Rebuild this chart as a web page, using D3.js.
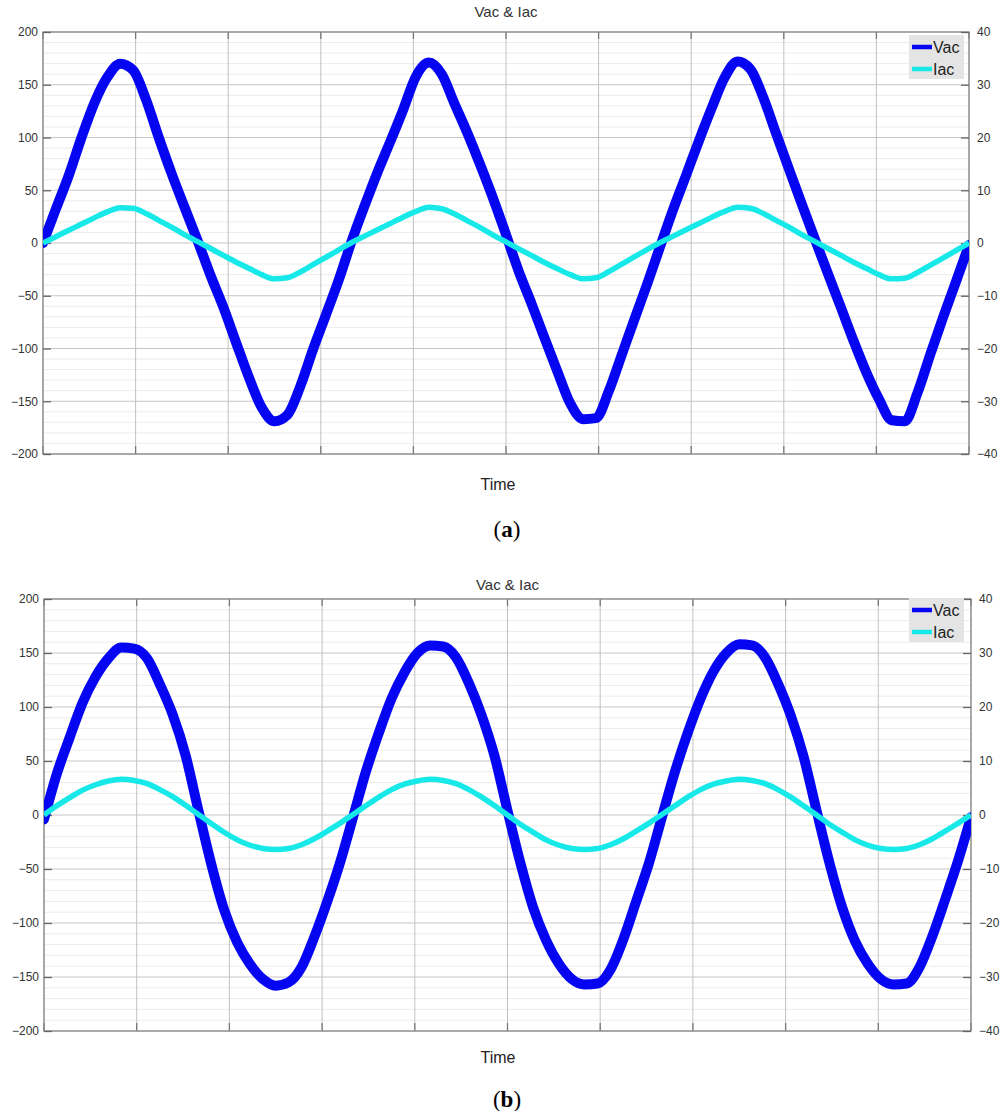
<!DOCTYPE html>
<html>
<head>
<meta charset="utf-8">
<script src="https://cdn.jsdelivr.net/npm/d3@7"></script>
<style>
  body { margin: 0; background: #fff; }
  svg { display: block; }
  .tick text { font-family: "Liberation Sans", Arial, sans-serif; font-size: 12px; fill: #333; }
</style>
</head>
<body>
<div id="plot"></div>
<script>
// sample times in ms (period / 24 steps)
const timeMs = [0.00, 0.69, 1.39, 2.08, 2.78, 3.47, 4.17, 4.86, 5.56, 6.25, 6.94, 7.64,
  8.33, 9.03, 9.72, 10.42, 11.11, 11.81, 12.50, 13.19, 13.89, 14.58, 15.28, 15.97,
  16.67, 17.36, 18.06, 18.75, 19.44, 20.14, 20.83, 21.53, 22.22, 22.92, 23.61, 24.31,
  25.00, 25.69, 26.39, 27.08, 27.78, 28.47, 29.17, 29.86, 30.56, 31.25, 31.94, 32.64,
  33.33, 34.03, 34.72, 35.42, 36.11, 36.81, 37.50, 38.19, 38.89, 39.58, 40.28, 40.97,
  41.67, 42.36, 43.06, 43.75, 44.44, 45.14, 45.83, 46.53, 47.22, 47.92, 48.61, 49.31, 50.00];

// panel (a)
const vacA = [0, 32, 64, 100, 133, 157, 170, 164, 136, 100, 66, 34,
  3, -30, -60, -94, -127, -156, -169, -163, -136, -101, -68, -35,
  2, 35, 67, 96, 126, 158, 171, 160, 132, 104, 74, 42,
  8, -27, -58, -90, -122, -152, -167, -166, -140, -106, -72, -38,
  -3, 32, 64, 97, 128, 157, 172, 165, 138, 104, 70, 37,
  4, -28, -60, -92, -122, -148, -168, -169, -142, -105, -70, -36, -2];
const iacA = [0, 1.2, 2.4, 3.6, 4.8, 5.9, 6.7, 6.6, 5.6, 4.3, 3.0, 1.6,
  0.3, -1.0, -2.3, -3.6, -4.8, -6.0, -6.8, -6.6, -5.5, -4.1, -2.7, -1.3,
  0.1, 1.3, 2.5, 3.7, 4.9, 6.0, 6.8, 6.5, 5.5, 4.2, 2.9, 1.5,
  0.2, -1.1, -2.4, -3.7, -4.9, -6.0, -6.8, -6.6, -5.4, -4.0, -2.6, -1.2,
  0.1, 1.3, 2.5, 3.7, 4.9, 6.0, 6.8, 6.6, 5.6, 4.3, 3.0, 1.6,
  0.3, -1.0, -2.3, -3.6, -4.8, -6.0, -6.8, -6.7, -5.6, -4.2, -2.8, -1.4, 0.0];

// panel (b)
const vacB = [-4, 38, 72, 104, 128, 145, 155, 154, 145, 121, 93, 55,
  4, -46, -88, -118, -138, -152, -158, -155, -141, -113, -80, -44,
  -2, 40, 76, 108, 132, 150, 157, 156, 146, 122, 92, 54,
  4, -44, -86, -116, -138, -152, -157, -156, -143, -115, -80, -44,
  -2, 40, 76, 108, 133, 150, 158, 157, 146, 122, 92, 54,
  4, -44, -86, -117, -138, -152, -157, -156, -141, -112, -78, -42, -2];
const iacB = [0, 1.7, 3.2, 4.6, 5.6, 6.3, 6.6, 6.4, 5.8, 4.7, 3.4, 1.8,
  0.1, -1.6, -3.2, -4.6, -5.6, -6.2, -6.4, -6.2, -5.5, -4.4, -3.0, -1.5,
  0.1, 1.7, 3.3, 4.7, 5.7, 6.3, 6.6, 6.4, 5.8, 4.7, 3.3, 1.7,
  0.0, -1.7, -3.2, -4.6, -5.6, -6.2, -6.4, -6.2, -5.5, -4.4, -3.0, -1.5,
  0.1, 1.7, 3.3, 4.7, 5.7, 6.3, 6.6, 6.4, 5.8, 4.7, 3.3, 1.7,
  0.0, -1.7, -3.2, -4.6, -5.6, -6.2, -6.4, -6.2, -5.5, -4.4, -3.0, -1.5, 0.0];

const vTicks = [-200, -150, -100, -50, 0, 50, 100, 150, 200];
const iTicks = [-40, -30, -20, -10, 0, 10, 20, 30, 40];
const timeTicks = [0, 5, 10, 15, 20, 25, 30, 35, 40, 45, 50];
const seriesNames = ["Vac", "Iac"];

const vacColor = "#0505f2", iacColor = "#17e8e8";

const svg = d3.select("#plot").append("svg")
  .attr("width", 1007)
  .attr("height", 1111);

function drawPanel(p, idx) {
  const x = d3.scaleLinear().domain([0, 50]).range([p.left, p.right]);
  const yV = d3.scaleLinear().domain([-200, 200]).range([p.bottom, p.top]);
  const yI = d3.scaleLinear().domain([-40, 40]).range([p.bottom, p.top]);

  const g = svg.append("g");

  // minor grid
  g.append("g").selectAll("line")
    .data(d3.range(-200, 201, 10).filter(v => v % 50 !== 0))
    .enter().append("line")
    .attr("x1", p.left).attr("x2", p.right)
    .attr("y1", d => yV(d)).attr("y2", d => yV(d))
    .attr("stroke", "#ececec").attr("stroke-width", 1);

  // major grid
  g.append("g").selectAll("line")
    .data(vTicks)
    .enter().append("line")
    .attr("x1", p.left).attr("x2", p.right)
    .attr("y1", d => yV(d)).attr("y2", d => yV(d))
    .attr("stroke", "#c6c6c6").attr("stroke-width", 1);

  g.append("g").selectAll("line")
    .data(timeTicks)
    .enter().append("line")
    .attr("x1", d => x(d)).attr("x2", d => x(d))
    .attr("y1", p.top).attr("y2", p.bottom)
    .attr("stroke", "#c2c2c2").attr("stroke-width", 1);

  // top / bottom tick marks
  g.append("g").selectAll("line")
    .data(timeTicks)
    .enter().append("line")
    .attr("x1", d => x(d)).attr("x2", d => x(d))
    .attr("y1", p.top).attr("y2", p.top + 7)
    .attr("stroke", "#777").attr("stroke-width", 1.3);
  g.append("g").selectAll("line")
    .data(timeTicks)
    .enter().append("line")
    .attr("x1", d => x(d)).attr("x2", d => x(d))
    .attr("y1", p.bottom).attr("y2", p.bottom - 8)
    .attr("stroke", "#777").attr("stroke-width", 1.3);

  // box
  g.append("rect")
    .attr("x", p.left).attr("y", p.top)
    .attr("width", p.right - p.left).attr("height", p.bottom - p.top)
    .attr("fill", "none").attr("stroke", "#8a8a8a").attr("stroke-width", 1.3);

  // axes
  const axL = g.append("g")
    .attr("transform", "translate(" + p.left + ",0)")
    .call(d3.axisLeft(yV).tickValues(vTicks).tickSizeInner(-8).tickSizeOuter(0).tickPadding(5).tickFormat(d3.format("d")));
  const axR = g.append("g")
    .attr("transform", "translate(" + p.right + ",0)")
    .call(d3.axisRight(yI).tickValues(iTicks).tickSizeInner(-8).tickSizeOuter(0).tickPadding(8).tickFormat(d3.format("d")));
  [axL, axR].forEach(a => {
    a.select(".domain").remove();
    a.selectAll(".tick line").attr("stroke", "#666").attr("stroke-width", 1.3);
  });

  // clip
  svg.append("clipPath").attr("id", "clip" + idx)
    .append("rect")
    .attr("x", p.left).attr("y", p.top)
    .attr("width", p.right - p.left).attr("height", p.bottom - p.top);

  const lines = g.append("g").attr("clip-path", "url(#clip" + idx + ")");

  lines.append("path")
    .datum(timeMs.map((t, i) => ({t: t, v: p.vac[i]})))
    .attr("fill", "none")
    .attr("stroke", vacColor)
    .attr("stroke-width", 10)
    .attr("stroke-linejoin", "round")
    .attr("stroke-linecap", "round")
    .attr("d", d3.line().curve(d3.curveMonotoneX)
      .x(d => x(d.t))
      .y(d => yV(d.v)));

  lines.append("path")
    .datum(timeMs.map((t, i) => ({t: t, v: p.iac[i]})))
    .attr("fill", "none")
    .attr("stroke", iacColor)
    .attr("stroke-width", 5.5)
    .attr("stroke-linejoin", "round")
    .attr("d", d3.line().curve(d3.curveMonotoneX)
      .x(d => x(d.t))
      .y(d => yI(d.v)));

  // legend
  const lg = g.append("g").attr("transform", "translate(909," + p.legendTop + ")");
  lg.append("rect")
    .attr("width", 55).attr("height", 44)
    .attr("fill", "#e4e4e4");
  seriesNames.forEach((name, i) => {
    lg.append("line")
      .attr("x1", 3).attr("x2", 23)
      .attr("y1", 12 + i * 22).attr("y2", 12 + i * 22)
      .attr("stroke", i === 0 ? vacColor : iacColor)
      .attr("stroke-width", 4.5);
    lg.append("text")
      .attr("x", 24).attr("y", 18 + i * 22)
      .attr("font-family", "Liberation Sans, Arial, sans-serif")
      .attr("font-size", 16)
      .attr("fill", "#222")
      .text(name);
  });

  // texts
  g.append("text")
    .attr("x", (p.left + p.right) / 2).attr("y", p.titleY)
    .attr("text-anchor", "middle")
    .attr("font-family", "Liberation Sans, Arial, sans-serif")
    .attr("font-size", 15)
    .attr("fill", "#333")
    .text("Vac & Iac");

  g.append("text")
    .attr("x", 498).attr("y", p.timeY)
    .attr("text-anchor", "middle")
    .attr("font-family", "Liberation Sans, Arial, sans-serif")
    .attr("font-size", 16)
    .attr("fill", "#222")
    .text("Time");

  const lab = g.append("text")
    .attr("x", 507).attr("y", p.labelY)
    .attr("text-anchor", "middle")
    .attr("font-family", "Liberation Serif, 'DejaVu Serif', serif")
    .attr("font-size", 23)
    .attr("fill", "#000");
  lab.append("tspan").text("(");
  lab.append("tspan").attr("font-weight", "bold").text(p.label);
  lab.append("tspan").text(")");
}

drawPanel({top: 32, bottom: 454, left: 43, right: 969, vac: vacA, iac: iacA,
  titleY: 17, timeY: 490, labelY: 537, label: "a", legendTop: 35}, 0);
drawPanel({top: 599, bottom: 1031, left: 44, right: 971, vac: vacB, iac: iacB,
  titleY: 590, timeY: 1063, labelY: 1107, label: "b", legendTop: 598}, 1);
</script>
</body>
</html>
